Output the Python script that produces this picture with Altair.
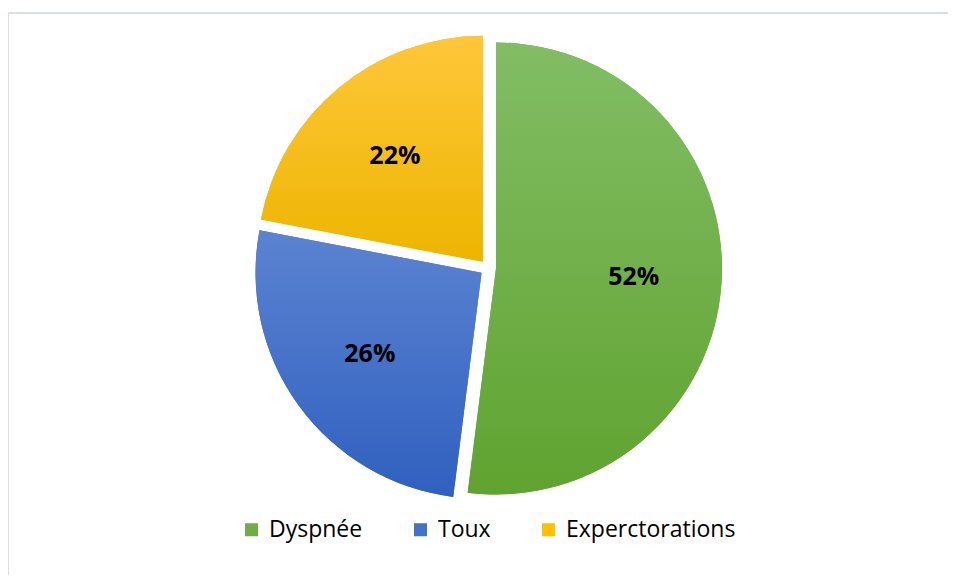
import altair as alt
import pandas as pd

categories = ["Dyspnée", "Toux", "Experctorations"]
values = [52, 26, 22]
order = [0, 1, 2]
flat_colors = ["#70AD47", "#4472C4", "#FFC000"]
top_colors = ["#82bd64", "#5b83d1", "#ffc73a"]
bottom_colors = ["#60a330", "#3060bf", "#edb500"]

df = pd.DataFrame({"cat": categories, "value": values, "order": order})

CX, CY = 480, 260      # pie centre (px, inside the view)
R = 226                # radius
EXPLODE = 8            # slice offset
LABEL_R = 146          # label distance from centre

base = (
    alt.Chart(df)
    .transform_window(cum="sum(value)", sort=[{"field": "order"}], frame=[None, 0])
    .transform_joinaggregate(total="sum(value)")
    .transform_calculate(
        t0="(datum.cum - datum.value) / datum.total * 2 * PI",
        t1="datum.cum / datum.total * 2 * PI",
    )
    .transform_calculate(mid="(datum.t0 + datum.t1) / 2")
    .transform_calculate(
        cx=f"{CX} + {EXPLODE} * sin(datum.mid)",
        cy=f"{CY} - {EXPLODE} * cos(datum.mid)",
        lx=f"{CX} + {LABEL_R} * sin(datum.mid)",
        ly=f"{CY} - {LABEL_R} * cos(datum.mid)",
        label="datum.value + '%'",
    )
)

arc_enc = dict(
    theta=alt.Theta("t0:Q", scale=None),
    theta2=alt.Theta2("t1:Q"),
    x=alt.X("cx:Q", scale=None),
    y=alt.Y("cy:Q", scale=None),
)

flat = base.mark_arc(outerRadius=R, stroke=None).encode(
    color=alt.Color(
        "cat:N",
        scale=alt.Scale(domain=categories, range=flat_colors),
        legend=alt.Legend(
            title=None,
            orient="none",
            legendX=232,
            legendY=510,
            direction="horizontal",
            symbolType="square",
            symbolSize=169,
            symbolStrokeWidth=0,
            labelFont="Open Sans",
            labelFontSize=23,
            labelColor="#000000",
            labelLimit=0,
            columnPadding=46,
            labelOffset=6,
        ),
    ),
    **arc_enc,
)

layers = [flat]
for cat, c0, c1 in zip(categories, top_colors, bottom_colors):
    grad = alt.LinearGradient(
        gradient="linear",
        stops=[alt.GradientStop(color=c0, offset=0), alt.GradientStop(color=c1, offset=1)],
        x1=0, x2=0, y1=0, y2=1,
    )
    layers.append(
        base.transform_filter(alt.datum.cat == cat)
        .mark_arc(outerRadius=R, fill=grad, stroke=None)
        .encode(**arc_enc)
    )

labels = base.mark_text(
    font="Open Sans", fontWeight="bold", fontSize=25, color="#000000",
    align="center", baseline="middle",
).encode(
    x=alt.X("lx:Q", scale=None),
    y=alt.Y("ly:Q", scale=None),
    text="label:N",
)

frame_top = alt.Chart(df).mark_rule(color="#dadee6", strokeWidth=2).encode(
    x=alt.value(0), x2=alt.value(940), y=alt.value(5)
)
frame_left = alt.Chart(df).mark_rule(color="#dadee6", strokeWidth=2).encode(
    x=alt.value(0), y=alt.value(5), y2=alt.value(567)
)

chart = (
    alt.layer(frame_top, frame_left, *layers, labels)
    .properties(width=940, height=567, padding=0, autosize=alt.AutoSizeParams(type="none"))
    .configure_view(strokeWidth=0)
)

chart.save("out.html", embed_options={"renderer": "svg", "actions": False})
